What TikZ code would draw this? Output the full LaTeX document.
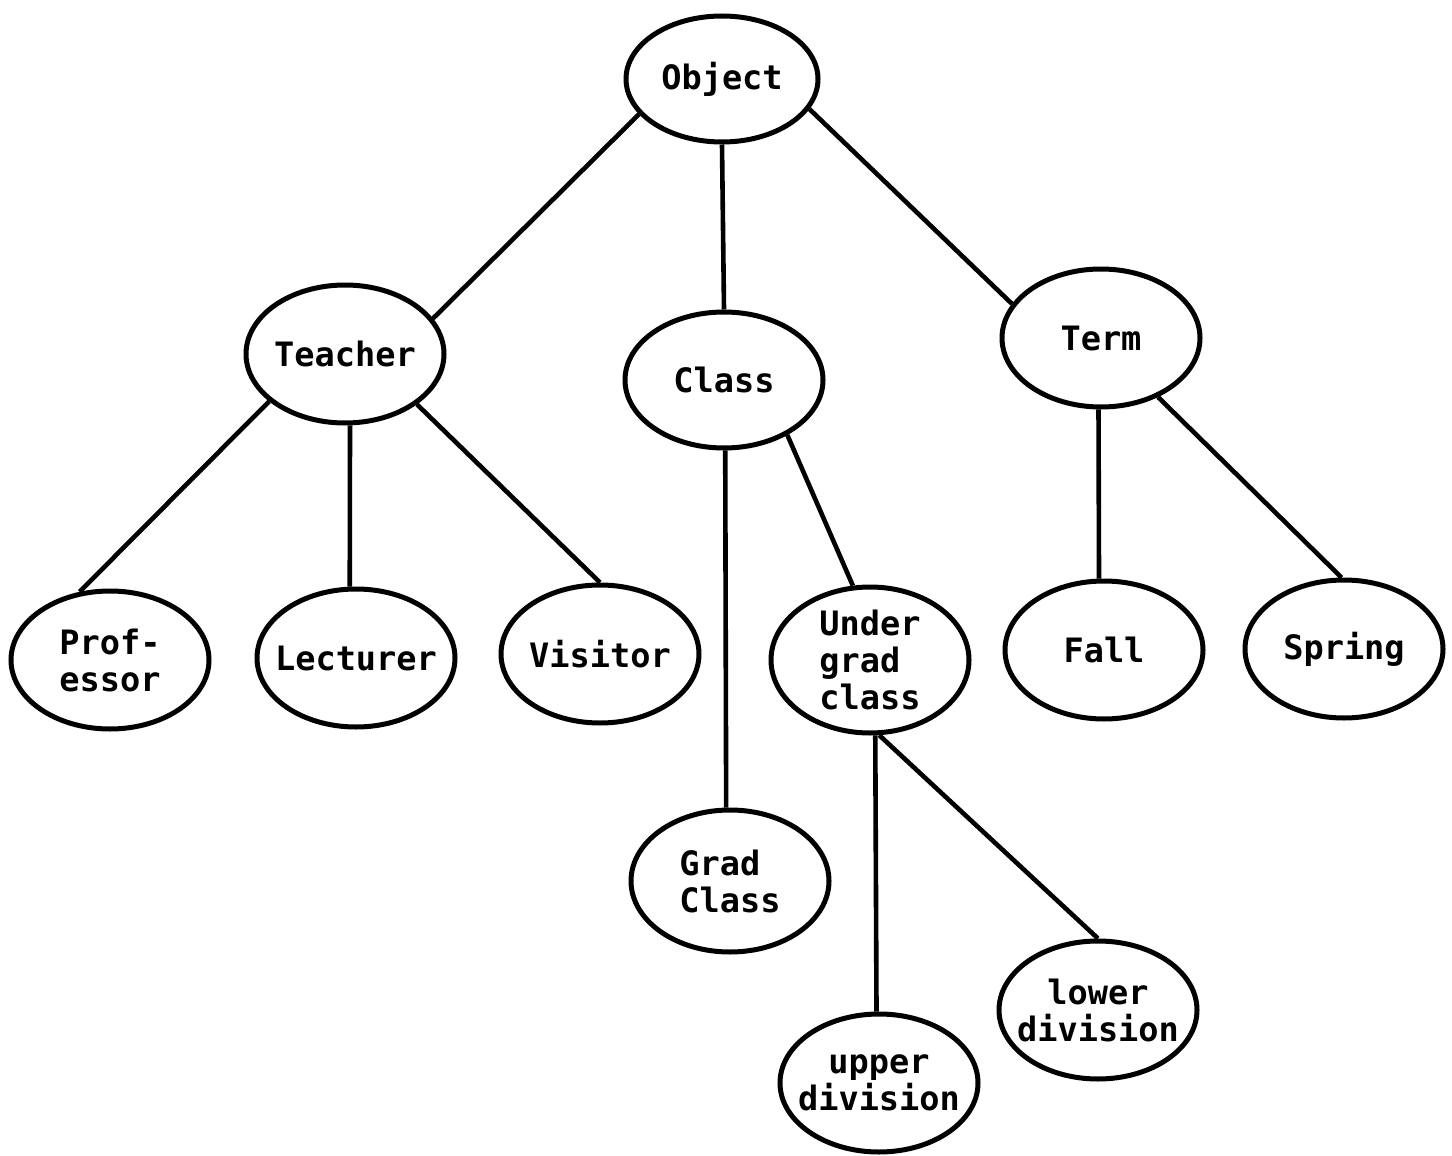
\documentclass[tikz,border=0pt]{standalone}
\usepackage{fontspec}
\setmonofont{DejaVu Sans Mono}
\usetikzlibrary{shapes.geometric}

\begin{document}
\begin{tikzpicture}[
    x=0.5pt, y=-0.5pt,
    obj/.style={ellipse, draw, line width=2.5pt, minimum width=99pt, minimum height=69pt, inner xsep=-12pt, inner ysep=-5pt, align=center, font=\ttfamily\bfseries\fontsize{16.8}{18.5}\selectfont},
    link/.style={line width=2.3pt}
]
\useasboundingbox (0,0) rectangle (1452,1156);
% top level
\node (object) [obj, minimum width=96pt, minimum height=63pt] at (722,79) {Object};
\node (teacher) [obj] at (345,354) {Teacher};
\node (class) [obj, minimum height=68pt] at (724,380) {Class};
\node (term) [obj] at (1101,338) {Term};
% children of Teacher
\node (prof) [obj, align=left] at (110,660) {Prof-\\essor};
\node (lect) [obj] at (356,658) {Lecturer};
\node (visitor) [obj] at (600,654) {Visitor};
% children of Class
\node (ugrad) [obj, align=left, minimum height=73pt] at (870,660) {Under\\grad\\class};
\node (grad) [obj, align=left, minimum height=71pt] at (730,881) {Grad\\Class};
\node (upper) [obj] at (879,1083) {upper\\division};
\node (lower) [obj] at (1098,1010) {lower\\division};
% children of Term
\node (fall) [obj] at (1104,650) {Fall};
\node (spring) [obj] at (1344,649) {Spring};
% links
\draw [link] (object.203) -- (teacher.22);
\draw [link] (object.south) -- (class.north);
\draw [link] (object.-19) -- (term.159);
\draw [link] (teacher.212) -- (prof.114);
\draw [link] (teacher.-86) -- (lect.95);
\draw [link] (teacher.-35) -- (visitor.90);
\draw [link] (class.-89) -- (grad.93);
\draw [link] (class.-41) -- (ugrad.103);
\draw [link] (ugrad.-86) -- (upper.92);
\draw [link] (ugrad.-83) -- (lower.90);
\draw [link] (term.-92) -- (fall.94);
\draw [link] (term.-46) -- (spring.92);
\end{tikzpicture}
\end{document}
